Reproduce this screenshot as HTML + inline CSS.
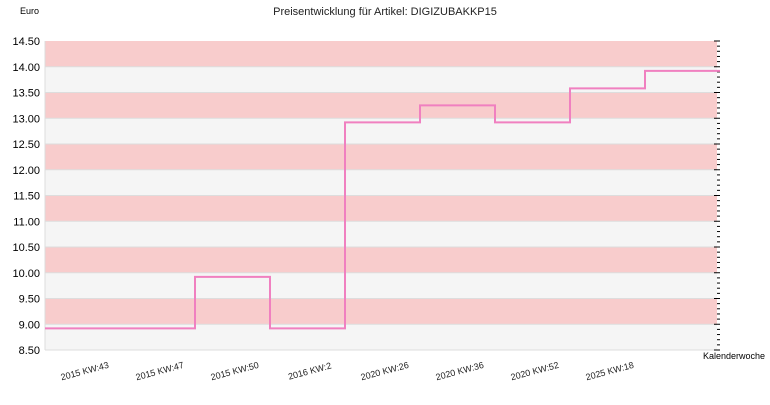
<!DOCTYPE html>
<html><head><meta charset="utf-8"><style>
body{margin:0;background:#fff;}
svg text{font-family:"Liberation Sans",sans-serif;}
</style></head><body>
<svg id="chart" width="770" height="400">
<text x="385" y="15" font-size="11" text-anchor="middle" fill="#222">Preisentwicklung für Artikel: DIGIZUBAKKP15</text>
<text x="20" y="14" font-size="9" fill="#000">Euro</text>
<text x="765" y="359" font-size="9" text-anchor="end" fill="#000">Kalenderwoche</text>
<g id="bands"></g><g id="yticks"></g><g id="xticks"></g><g id="series"></g>
</svg>
<script>
const categories=["2015 KW:43","2015 KW:47","2015 KW:50","2016 KW:2","2020 KW:26","2020 KW:36","2020 KW:52","2025 KW:18",""];
const prices=[8.92,8.92,9.92,8.92,12.92,13.25,12.92,13.58,13.92];
const yTicks=[8.5,9,9.5,10,10.5,11,11.5,12,12.5,13,13.5,14,14.5];
const X0=45,X1=720,Y0=350,Y1=41,yMin=8.5,yMax=14.5;
const step=(X1-X0)/categories.length;
const ys=v=>Y0-(v-yMin)/(yMax-yMin)*(Y0-Y1);
const xs=i=>X0+i*step;
const NS="http://www.w3.org/2000/svg";
function mk(t,a,p){const e=document.createElementNS(NS,t);for(const k in a)e.setAttribute(k,a[k]);p.appendChild(e);return e;}
const bands=document.getElementById('bands');
for(let i=0;i<yTicks.length-1;i++){
 const r=mk('rect',{x:X0,y:ys(yTicks[i+1]),width:X1-X0-3,height:ys(yTicks[i])-ys(yTicks[i+1]),fill:i%2?'#f8cccc':'#f5f5f5'},bands);
 
 
 const l=mk('line',{x1:X0,x2:X1-3,y1:ys(yTicks[i]),y2:ys(yTicks[i]),stroke:'#ddd','stroke-width':1},bands);
 
 
}
mk('line',{x1:X0,x2:X0,y1:Y1,y2:Y0,stroke:'#ddd'},bands);
const yt=document.getElementById('yticks');
yTicks.forEach(v=>{
 const t=mk('text',{x:40,y:ys(v)+4,'font-size':11,'text-anchor':'end',fill:'#000'},yt);t.textContent=v.toFixed(2);
 
 
});
for(let v=yMin;v<=yMax+1e-6;v+=0.1){
 const r=Math.round(v*10)%5===0;
 mk('line',{x1:r?714:717,x2:720,y1:ys(v),y2:ys(v),stroke:'#000','stroke-width':1},yt);
}
const xt=document.getElementById('xticks');
categories.forEach((c,i)=>{
 if(!c)return;
 const cx=xs(i)+step/2+3,cy=374;
 const t=mk('text',{x:cx,y:cy,'font-size':9,'text-anchor':'middle',fill:'#222',transform:`rotate(-15 ${cx} ${cy})`},xt);t.textContent=c;
 
 
});
let d='';
prices.forEach((p,i)=>{d+=(i?'L':'M')+xs(i)+','+ys(p)+'L'+xs(i+1)+','+ys(p);});
const path=mk('path',{d:d,fill:'none',stroke:'#f080c0','stroke-width':2},document.getElementById('series'));


</script>
</body></html>
